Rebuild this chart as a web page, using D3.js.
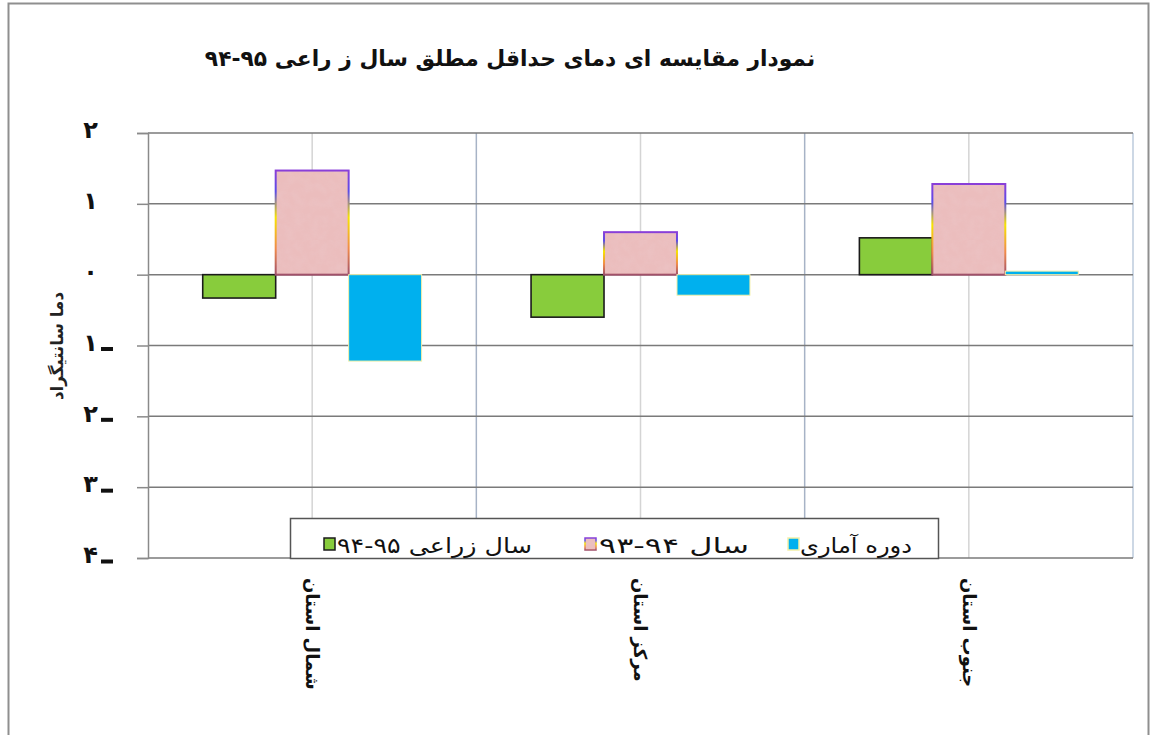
<!DOCTYPE html>
<html>
<head>
<meta charset="utf-8">
<script src="https://cdn.jsdelivr.net/npm/d3@7"></script>
<style>
  html, body { margin: 0; padding: 0; background: #fff; }
  svg { display: block; font-family: 'DejaVu Sans', sans-serif; }
</style>
</head>
<body>
<div id="chart"></div>
<script>
// chart data
const categories = ['شمال استان', 'مرکز استان', 'جنوب استان'];
const seriesNames = ['سال زراعی ۹۵-۹۴', 'سال ۹۴-۹۳', 'دوره آماری'];
const crop9495 = [-0.33, -0.60, 0.52];
const year9394 = [1.47, 0.60, 1.28];
const longTerm = [-1.22, -0.29, 0.05];
const yTicks = [2, 1, 0, -1, -2, -3, -4];
const titleText = 'نمودار مقایسه ای دمای حداقل مطلق سال ز راعی ۹۵-۹۴';
const yLabel = 'دما سانتیگراد';

const width = 1152, height = 735;
const plot = { left: 148, right: 1133, top: 133, bottom: 558 };
const FONT = "'DejaVu Sans', sans-serif";

const faDigits = '۰۱۲۳۴۵۶۷۸۹';
const toFa = n => String(n).replace(/\d/g, d => faDigits[+d]);

const svg = d3.select('#chart').append('svg')
    .attr('width', width)
    .attr('height', height);

const defs = svg.append('defs');

// pink texture + rainbow-ish edge like the excel fill
const noise = defs.append('filter').attr('id', 'noise')
    .attr('x', 0).attr('y', 0).attr('width', '100%').attr('height', '100%');
noise.append('feTurbulence').attr('type', 'fractalNoise')
    .attr('baseFrequency', 0.12).attr('numOctaves', 2).attr('seed', 3);
noise.append('feColorMatrix').attr('type', 'matrix')
    .attr('values', '0 0 0 0 0.85  0 0 0 0 0.62  0 0 0 0 0.64  0 0 0 0.9 -0.3');

const pat = defs.append('pattern').attr('id', 'pinkTex')
    .attr('patternUnits', 'userSpaceOnUse')
    .attr('width', 240).attr('height', 240);
pat.append('rect').attr('width', 240).attr('height', 240).attr('fill', '#ebbdbd');
pat.append('rect').attr('width', 240).attr('height', 240)
    .attr('filter', 'url(#noise)').attr('opacity', 0.5);

const edge = defs.append('linearGradient').attr('id', 'pinkEdge')
    .attr('x1', 0).attr('y1', 0).attr('x2', 0).attr('y2', 1);
[[0, '#8a3fd8'], [0.2, '#5a4be8'], [0.45, '#f6e400'], [0.75, '#f08a4a'], [1, '#a0506a']]
    .forEach(([o, c]) => edge.append('stop').attr('offset', o).attr('stop-color', c));

const seriesStyle = [
    { values: crop9495, fill: '#88cc3c', stroke: '#1b1b1b', sw: 1.6 },
    { values: year9394, fill: 'url(#pinkTex)', stroke: 'url(#pinkEdge)', sw: 2 },
    { values: longTerm, fill: '#00b0ee', stroke: '#f4f0a8', sw: 1 }
];

// outer frame
svg.append('rect')
    .attr('x', 8.5).attr('y', 3.5)
    .attr('width', 1140).attr('height', 760)
    .attr('fill', 'none')
    .attr('stroke', '#8f8f8f')
    .attr('stroke-width', 2);

// scales
const y = d3.scaleLinear().domain([-4, 2]).range([plot.bottom, plot.top]);
const x0 = d3.scaleBand().domain(categories)
    .range([plot.left, plot.right])
    .paddingInner(1 / 3).paddingOuter(1 / 6);
const x1 = d3.scaleBand().domain(d3.range(seriesNames.length))
    .range([0, x0.bandwidth()]);
const step = x0.step();

// vertical grid: category centres and boundaries
const grid = svg.append('g');
categories.forEach((c, i) => {
    const cx = x0(c) + x0.bandwidth() / 2;
    grid.append('line')
        .attr('x1', cx).attr('x2', cx)
        .attr('y1', plot.top).attr('y2', plot.bottom)
        .attr('stroke', '#d4d4d4').attr('stroke-width', 1.5);
    if (i > 0) {
        const bx = plot.left + i * step;
        grid.append('line')
            .attr('x1', bx).attr('x2', bx)
            .attr('y1', plot.top).attr('y2', plot.bottom)
            .attr('stroke', '#a7b3c6').attr('stroke-width', 1.5);
    }
});
grid.append('line')
    .attr('x1', plot.right).attr('x2', plot.right)
    .attr('y1', plot.top).attr('y2', plot.bottom)
    .attr('stroke', '#bccbdd').attr('stroke-width', 1.5);

// horizontal grid
grid.selectAll('.hgrid')
    .data(yTicks)
    .enter()
    .append('line')
    .attr('class', 'hgrid')
    .attr('x1', plot.left).attr('x2', plot.right)
    .attr('y1', d => y(d)).attr('y2', d => y(d))
    .attr('stroke', '#7a7a7a')
    .attr('stroke-width', 1.5);

// y axis
const yAxis = svg.append('g')
    .attr('transform', `translate(${plot.left},0)`)
    .call(d3.axisLeft(y).tickValues(yTicks).tickSize(11).tickPadding(0)
        .tickFormat(d => toFa(Math.abs(d))));
yAxis.attr('font-family', null).attr('font-size', null);
yAxis.select('.domain').attr('stroke', '#8a8a8a').attr('stroke-width', 1.5);
yAxis.selectAll('.tick line').attr('stroke', '#8a8a8a').attr('stroke-width', 1.5);
yAxis.selectAll('.tick text')
    .attr('x', -50)
    .attr('dy', '0.2em')
    .style('font-family', FONT)
    .style('font-size', '24px')
    .style('font-weight', 'bold')
    .attr('fill', '#111');
yAxis.selectAll('.tick')
    .filter(d => d < 0)
    .append('rect')
    .attr('x', -47).attr('y', 1)
    .attr('width', 12).attr('height', 4)
    .attr('fill', '#111');

// bars
const groups = svg.append('g')
    .selectAll('g')
    .data(categories)
    .enter()
    .append('g')
    .attr('transform', c => `translate(${x0(c)},0)`);

groups.selectAll('rect')
    .data((c, i) => seriesStyle.map((s, k) => ({ k, v: s.values[i], s })))
    .enter()
    .append('rect')
    .attr('x', d => x1(d.k))
    .attr('y', d => y(Math.max(0, d.v)))
    .attr('width', x1.bandwidth())
    .attr('height', d => Math.abs(y(d.v) - y(0)))
    .attr('fill', d => d.s.fill)
    .attr('stroke', d => d.s.stroke)
    .attr('stroke-width', d => d.s.sw);

// category labels, rotated
svg.append('g')
    .selectAll('text')
    .data(categories)
    .enter()
    .append('text')
    .attr('transform', c => `translate(${x0(c) + x0.bandwidth() / 2},578) rotate(90)`)
    .attr('dy', '0.35em')
    .attr('text-anchor', 'start')
    .style('font-size', '18px')
    .style('font-weight', 'bold')
    .attr('fill', '#111')
    .text(c => c);

// y label
svg.append('text')
    .attr('transform', 'translate(57,346) rotate(-90)')
    .attr('dy', '0.35em')
    .attr('text-anchor', 'middle')
    .style('font-size', '17px')
    .style('font-weight', 'bold')
    .attr('fill', '#222')
    .attr('textLength', 108)
    .attr('lengthAdjust', 'spacingAndGlyphs')
    .text(yLabel);

// title
const title = svg.append('text')
    .attr('x', 510).attr('y', 66)
    .attr('text-anchor', 'middle')
    .style('font-size', '24px')
    .style('font-weight', 'bold')
    .attr('fill', '#111')
    .text(titleText);
const tw = title.node().getComputedTextLength();
if (tw > 0) title.style('font-size', (24 * 610 / tw).toFixed(1) + 'px');

// legend
const legend = svg.append('g');
legend.append('rect')
    .attr('x', 290.5).attr('y', 518.5)
    .attr('width', 648).attr('height', 40)
    .attr('fill', '#fff')
    .attr('stroke', '#555')
    .attr('stroke-width', 1.5);

const legendItems = [
    { k: 0, sx: 324, tx: 337, w: 195 },
    { k: 1, sx: 585, tx: 599, w: 150 },
    { k: 2, sx: 788, tx: 800, w: 112 }
];
legendItems.forEach(it => {
    const s = seriesStyle[it.k];
    legend.append('rect')
        .attr('x', it.sx).attr('y', 538)
        .attr('width', 11).attr('height', 12)
        .attr('fill', s.fill)
        .attr('stroke', s.stroke)
        .attr('stroke-width', 1.5);
    const t = legend.append('text')
        .attr('x', it.tx).attr('y', 553)
        .attr('text-anchor', 'start')
        .style('font-size', '21px')
        .attr('fill', '#111')
        .text(seriesNames[it.k]);
    // stretch to the width the label takes in the picture
    const len = t.node().getComputedTextLength();
    if (len > 0) t.attr('textLength', it.w).attr('lengthAdjust', 'spacingAndGlyphs');
});
</script>
</body>
</html>
